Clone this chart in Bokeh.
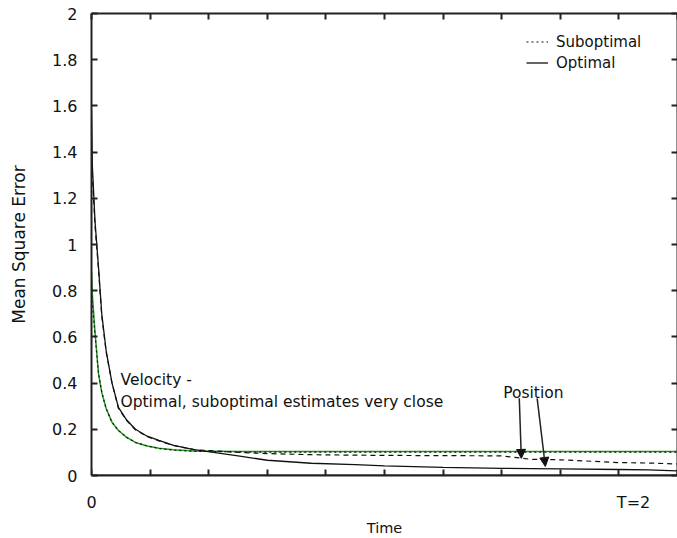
from bokeh.plotting import figure
from bokeh.models import (LinearAxis, Range1d, Label, Arrow, NormalHead, Legend,
                          LegendItem, FixedTicker)
from bokeh.embed import file_html
from bokeh.resources import INLINE

# ---- data ----
t = [0, 0.003, 0.012, 0.024, 0.035, 0.05, 0.07, 0.092, 0.12, 0.15, 0.19, 0.23,
     0.28, 0.35, 0.5, 0.6, 0.75, 0.9, 1.0, 1.2, 1.4, 1.5, 1.6, 1.8, 1.9, 2.0]
pos_opt = [1.58, 1.34, 1.10, 0.90, 0.70, 0.54, 0.40, 0.295, 0.24, 0.20, 0.17, 0.152,
           0.13, 0.112, 0.085, 0.066, 0.053, 0.047, 0.042, 0.035, 0.031, 0.030,
           0.029, 0.026, 0.024, 0.020]
pos_sub = [1.35, 1.30, 1.08, 0.89, 0.69, 0.535, 0.40, 0.29, 0.238, 0.198, 0.168, 0.150,
           0.13, 0.112, 0.100, 0.095, 0.090, 0.088, 0.087, 0.086, 0.085, 0.070,
           0.068, 0.056, 0.054, 0.050]
vel_opt = [0.88, 0.78, 0.62, 0.44, 0.36, 0.29, 0.23, 0.195, 0.165, 0.143, 0.128, 0.118,
           0.111, 0.106, 0.104, 0.104, 0.104, 0.104, 0.104, 0.104, 0.104, 0.104,
           0.104, 0.104, 0.104, 0.104]
vel_sub = [0.80, 0.74, 0.61, 0.44, 0.36, 0.29, 0.23, 0.195, 0.165, 0.143, 0.128, 0.117,
           0.110, 0.105, 0.102, 0.101, 0.101, 0.101, 0.101, 0.101, 0.101, 0.101,
           0.101, 0.101, 0.101, 0.101]

x_ticks = [0, 0.2, 0.4, 0.6, 0.8, 1.0, 1.2, 1.4, 1.6, 1.8, 2.0]
x_label_ticks = [0, 1.85]
x_label_texts = ["0", "T=2"]
y_ticks = [0, 0.2, 0.4, 0.6, 0.8, 1.0, 1.2, 1.4, 1.6, 1.8, 2.0]
y_tick_labels = ["0", "0.2", "0.4", "0.6", "0.8", "1", "1.2", "1.4", "1.6", "1.8", "2"]

# annotation anchors (data units)
arrow_start_x = [1.46, 1.521]
arrow_start_y = [0.334, 0.334]
arrow_end_x = [1.467, 1.549]
arrow_end_y = [0.074, 0.039]

FONT = "DejaVu Sans"
AX_COLOR = "#222222"

p = figure(width=677, height=538, output_backend="svg", toolbar_location=None,
           x_range=Range1d(0, 2), y_range=Range1d(0, 2),
           min_border_left=91, min_border_top=13, min_border_right=0,
           min_border_bottom=63)
p.grid.visible = False
p.outline_line_color = None
p.background_fill_color = "white"
p.border_fill_color = "white"


def style_axis(ax, tick_in):
    ax.axis_line_width = 2
    ax.axis_line_color = AX_COLOR
    ax.major_tick_in = tick_in
    ax.major_tick_out = 0
    ax.minor_tick_in = 0
    ax.minor_tick_out = 0
    ax.major_tick_line_width = 2
    ax.major_tick_line_color = AX_COLOR
    ax.major_label_text_font = FONT
    ax.major_label_text_font_size = "16px"
    ax.major_label_text_color = "#111111"
    ax.axis_label_text_font = FONT
    ax.axis_label_text_font_style = "normal"
    ax.axis_label_text_color = "#111111"


# bottom axis: labels only ("0" and "T=2")
xa = p.xaxis[0]
style_axis(xa, 0)
xa.ticker = FixedTicker(ticks=x_label_ticks)
xa.major_label_overrides = dict(zip(x_label_ticks, x_label_texts))
xa.major_label_standoff = 17
xa.axis_label = "Time"
xa.axis_label_text_font_size = "14.5px"
xa.axis_label_standoff = 5

# bottom inward ticks, fixed on y = 0 (takes no space)
xt = LinearAxis(fixed_location=0, ticker=FixedTicker(ticks=x_ticks))
style_axis(xt, 6)
xt.major_label_overrides = {v: "" for v in x_ticks}
xt.major_label_standoff = 0
p.add_layout(xt, "below")

ya = p.yaxis[0]
style_axis(ya, 6)
ya.ticker = FixedTicker(ticks=y_ticks)
ya.major_label_overrides = dict(zip(y_ticks, y_tick_labels))
ya.major_label_standoff = 14
ya.axis_label = "Mean Square Error"
ya.axis_label_text_font_size = "17px"
ya.axis_label_standoff = 20

for loc, ticks in (("above", x_ticks), ("right", y_ticks)):
    ax = LinearAxis(ticker=FixedTicker(ticks=ticks))
    style_axis(ax, 6)
    ax.major_label_overrides = {v: "" for v in ticks}
    ax.major_label_standoff = 0
    p.add_layout(ax, loc)

# curves
r_vo = p.line(t, vel_opt, line_color="#1a9a1a", line_width=1.5)
r_vs = p.line(t, vel_sub, line_color="#111111", line_width=1.2, line_dash="2 3")
r_po = p.line(t, pos_opt, line_color="#111111", line_width=1.3)
r_ps = p.line(t, pos_sub, line_color="#111111", line_width=1.2, line_dash="5 4")

# annotations
p.add_layout(Label(x=0.099, y=0.412, text="Velocity -", text_font=FONT,
                   text_font_size="15.5px", text_color="#111111",
                   text_baseline="alphabetic"))
p.add_layout(Label(x=0.099, y=0.317, text="Optimal, suboptimal estimates very close",
                   text_font=FONT, text_font_size="15.5px", text_color="#111111",
                   text_baseline="alphabetic"))
p.add_layout(Label(x=1.405, y=0.356, text="Position", text_font=FONT,
                   text_font_size="15.5px", text_color="#111111",
                   text_baseline="alphabetic"))

for xs, ys, xe, ye in zip(arrow_start_x, arrow_start_y, arrow_end_x, arrow_end_y):
    p.add_layout(Arrow(x_start=xs, y_start=ys, x_end=xe, y_end=ye,
                       line_color="#222222", line_width=1.5,
                       end=NormalHead(size=9, fill_color="#111111",
                                      line_color="#111111")))

legend = Legend(items=[LegendItem(label="Suboptimal", renderers=[r_vs]),
                       LegendItem(label="Optimal", renderers=[r_po])],
                location=(435, 402))
legend.border_line_color = None
legend.background_fill_alpha = 0
legend.padding = 0
legend.margin = 0
legend.spacing = 0
legend.glyph_width = 22
legend.glyph_height = 21
legend.label_height = 21
legend.label_standoff = 8
legend.label_text_font = FONT
legend.label_text_font_size = "15px"
legend.label_text_color = "#111111"
p.add_layout(legend)

open("out.html", "w").write(file_html(p, INLINE))
